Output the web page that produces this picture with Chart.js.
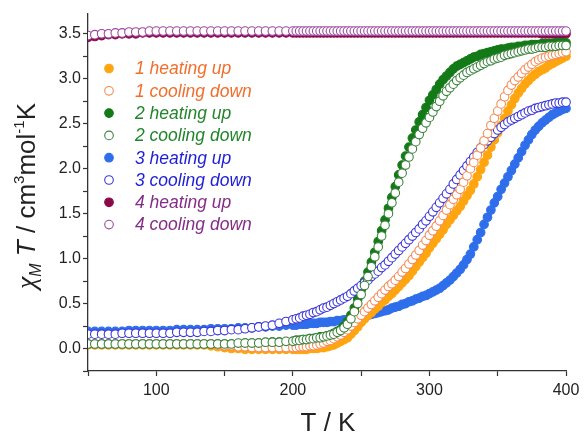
<!DOCTYPE html>
<html>
<head>
<meta charset="utf-8">
<script src="https://cdn.jsdelivr.net/npm/chart.js@4.4.1/dist/chart.umd.min.js"></script>
<style>
  html, body { margin: 0; padding: 0; background: #fff; }
  #wrap { width: 587px; height: 434px; position: relative; }
</style>
</head>
<body>
<div id="wrap"><canvas id="chiChart"></canvas></div>
<script>
// temperature grid (K)
const temps = [
  50, 55, 60, 65, 70, 75, 80, 85, 90, 95,
  100, 105, 110, 115, 120, 125, 130, 135, 140, 145,
  150, 155, 160, 165, 170, 175, 180, 185, 190, 195,
  200,
  202.5, 205, 207.5, 210, 212.5, 215, 217.5, 220, 222.5, 225,
  227.5, 230, 232.5, 235, 237.5, 240, 242.5, 245, 247.5, 250,
  252.5, 255, 257.5, 260, 262.5, 265, 267.5, 270, 272.5, 275,
  277.5, 280, 282.5, 285, 287.5, 290, 292.5, 295, 297.5, 300,
  302.5, 305, 307.5, 310, 312.5, 315, 317.5, 320, 322.5, 325,
  327.5, 330, 332.5, 335, 337.5, 340, 342.5, 345, 347.5, 350,
  352.5, 355, 357.5, 360, 362.5, 365, 367.5, 370, 372.5, 375,
  377.5, 380, 382.5, 385, 387.5, 390, 392.5, 395, 397.5, 400
];

// chi_M T values (cm3 mol-1 K)
const heat1 = [
  0.04, 0.04, 0.04, 0.04, 0.04, 0.04, 0.04, 0.04, 0.04, 0.04,
  0.04, 0.04, 0.04, 0.04, 0.04, 0.04, 0.04, 0.04, 0.03, 0.02,
  0.01, 0.00, 0.00, -0.01, -0.01, -0.01, -0.01, -0.01, -0.01, -0.01,
  -0.01,
  -0.01, -0.01, -0.01, -0.01, 0.00, 0.00, 0.00, 0.01, 0.01, 0.02,
  0.03, 0.04, 0.06, 0.08, 0.10, 0.12, 0.16, 0.20, 0.24, 0.29,
  0.33, 0.37, 0.40, 0.44, 0.47, 0.51, 0.54, 0.58, 0.61, 0.65,
  0.69, 0.73, 0.77, 0.81, 0.86, 0.91, 0.96, 1.01, 1.06, 1.12,
  1.17, 1.22, 1.27, 1.32, 1.38, 1.43, 1.48, 1.53, 1.58, 1.64,
  1.70, 1.76, 1.83, 1.91, 1.99, 2.07, 2.15, 2.24, 2.32, 2.40,
  2.48, 2.56, 2.64, 2.71, 2.78, 2.84, 2.89, 2.94, 2.98, 3.02,
  3.05, 3.08, 3.10, 3.12, 3.15, 3.17, 3.19, 3.21, 3.23, 3.25
];
const cool1 = [
  0.05, 0.05, 0.05, 0.05, 0.05, 0.05, 0.05, 0.05, 0.05, 0.05,
  0.05, 0.05, 0.05, 0.05, 0.05, 0.05, 0.05, 0.05, 0.05, 0.04,
  0.03, 0.03, 0.02, 0.02, 0.01, 0.01, 0.01, 0.01, 0.01, 0.01,
  0.01,
  0.01, 0.02, 0.02, 0.02, 0.03, 0.03, 0.04, 0.05, 0.06, 0.08,
  0.09, 0.11, 0.13, 0.15, 0.18, 0.21, 0.25, 0.29, 0.33, 0.37,
  0.41, 0.45, 0.49, 0.53, 0.57, 0.61, 0.65, 0.69, 0.72, 0.76,
  0.80, 0.85, 0.89, 0.94, 0.99, 1.04, 1.09, 1.15, 1.20, 1.26,
  1.31, 1.36, 1.42, 1.48, 1.54, 1.60, 1.66, 1.71, 1.77, 1.85,
  1.92, 2.00, 2.07, 2.15, 2.23, 2.31, 2.39, 2.48, 2.56, 2.64,
  2.72, 2.80, 2.87, 2.93, 2.98, 3.02, 3.06, 3.10, 3.13, 3.16,
  3.19, 3.21, 3.23, 3.24, 3.25, 3.26, 3.27, 3.28, 3.29, 3.30
];
const heat2 = [
  0.05, 0.05, 0.05, 0.05, 0.05, 0.05, 0.05, 0.05, 0.05, 0.05,
  0.05, 0.05, 0.05, 0.05, 0.05, 0.05, 0.05, 0.05, 0.05, 0.05,
  0.05, 0.05, 0.05, 0.06, 0.06, 0.06, 0.06, 0.07, 0.07, 0.07,
  0.08,
  0.09, 0.09, 0.10, 0.10, 0.11, 0.11, 0.12, 0.13, 0.13, 0.14,
  0.15, 0.17, 0.19, 0.21, 0.25, 0.30, 0.37, 0.45, 0.55, 0.65,
  0.75, 0.85, 0.96, 1.07, 1.19, 1.31, 1.43, 1.56, 1.68, 1.80,
  1.93, 2.04, 2.14, 2.24, 2.34, 2.43, 2.52, 2.60, 2.68, 2.76,
  2.82, 2.88, 2.94, 2.99, 3.03, 3.07, 3.11, 3.14, 3.16, 3.18,
  3.20, 3.22, 3.24, 3.25, 3.27, 3.28, 3.29, 3.30, 3.31, 3.32,
  3.33, 3.33, 3.34, 3.35, 3.35, 3.36, 3.36, 3.37, 3.37, 3.38,
  3.38, 3.38, 3.39, 3.39, 3.39, 3.39, 3.40, 3.40, 3.40, 3.40
];
const cool2 = [
  0.05, 0.05, 0.05, 0.05, 0.05, 0.05, 0.05, 0.05, 0.05, 0.05,
  0.05, 0.05, 0.05, 0.05, 0.05, 0.05, 0.05, 0.05, 0.05, 0.05,
  0.05, 0.05, 0.06, 0.06, 0.06, 0.06, 0.07, 0.07, 0.07, 0.08,
  0.08,
  0.09, 0.09, 0.10, 0.10, 0.11, 0.11, 0.12, 0.12, 0.13, 0.14,
  0.15, 0.16, 0.18, 0.20, 0.23, 0.27, 0.33, 0.41, 0.50, 0.60,
  0.70, 0.80, 0.91, 1.02, 1.13, 1.25, 1.37, 1.50, 1.62, 1.73,
  1.85, 1.95, 2.04, 2.13, 2.22, 2.30, 2.38, 2.45, 2.51, 2.57,
  2.63, 2.69, 2.75, 2.81, 2.86, 2.90, 2.94, 2.98, 3.01, 3.04,
  3.07, 3.09, 3.11, 3.13, 3.15, 3.17, 3.19, 3.20, 3.22, 3.23,
  3.24, 3.26, 3.27, 3.28, 3.29, 3.30, 3.31, 3.32, 3.33, 3.33,
  3.34, 3.35, 3.35, 3.35, 3.36, 3.36, 3.36, 3.37, 3.37, 3.37
];
const heat3 = [
  0.19, 0.19, 0.19, 0.19, 0.19, 0.19, 0.20, 0.20, 0.20, 0.20,
  0.20, 0.20, 0.20, 0.21, 0.21, 0.21, 0.21, 0.21, 0.22, 0.22,
  0.22, 0.22, 0.23, 0.23, 0.23, 0.24, 0.24, 0.25, 0.25, 0.26,
  0.26,
  0.26, 0.27, 0.27, 0.27, 0.28, 0.28, 0.28, 0.29, 0.29, 0.29,
  0.30, 0.30, 0.31, 0.31, 0.32, 0.32, 0.33, 0.34, 0.34, 0.35,
  0.36, 0.37, 0.38, 0.39, 0.40, 0.41, 0.42, 0.43, 0.45, 0.46,
  0.47, 0.49, 0.50, 0.52, 0.53, 0.55, 0.56, 0.58, 0.59, 0.61,
  0.63, 0.65, 0.67, 0.70, 0.73, 0.76, 0.80, 0.84, 0.88, 0.93,
  0.99, 1.05, 1.13, 1.21, 1.29, 1.38, 1.46, 1.54, 1.62, 1.69,
  1.77, 1.84, 1.91, 1.98, 2.05, 2.12, 2.19, 2.26, 2.32, 2.38,
  2.43, 2.47, 2.51, 2.54, 2.57, 2.60, 2.62, 2.64, 2.66, 2.67
];
const cool3 = [
  0.16, 0.16, 0.16, 0.16, 0.16, 0.17, 0.17, 0.17, 0.17, 0.17,
  0.17, 0.17, 0.17, 0.18, 0.18, 0.18, 0.18, 0.19, 0.19, 0.20,
  0.20, 0.21, 0.21, 0.22, 0.23, 0.24, 0.25, 0.26, 0.28, 0.30,
  0.32,
  0.33, 0.34, 0.36, 0.37, 0.38, 0.40, 0.41, 0.43, 0.45, 0.46,
  0.48, 0.50, 0.52, 0.54, 0.56, 0.58, 0.61, 0.64, 0.67, 0.70,
  0.73, 0.76, 0.80, 0.83, 0.86, 0.90, 0.93, 0.97, 1.01, 1.05,
  1.09, 1.13, 1.17, 1.21, 1.25, 1.29, 1.33, 1.38, 1.42, 1.47,
  1.52, 1.57, 1.62, 1.67, 1.72, 1.77, 1.83, 1.88, 1.93, 1.98,
  2.03, 2.08, 2.13, 2.18, 2.23, 2.27, 2.31, 2.35, 2.39, 2.43,
  2.46, 2.49, 2.52, 2.54, 2.56, 2.58, 2.60, 2.62, 2.64, 2.65,
  2.67, 2.68, 2.69, 2.70, 2.71, 2.72, 2.73, 2.73, 2.74, 2.74
];
const heat4 = [
  3.46, 3.47, 3.48, 3.49, 3.49, 3.50, 3.50, 3.50, 3.51, 3.51,
  3.51, 3.51, 3.51, 3.51, 3.51, 3.51, 3.51, 3.51, 3.51, 3.51,
  3.51, 3.51, 3.51, 3.51, 3.51, 3.51, 3.51, 3.51, 3.51, 3.51,
  3.51,
  3.51, 3.51, 3.51, 3.51, 3.51, 3.51, 3.51, 3.51, 3.51, 3.51,
  3.51, 3.51, 3.51, 3.51, 3.51, 3.51, 3.51, 3.51, 3.51, 3.51,
  3.51, 3.51, 3.51, 3.51, 3.51, 3.51, 3.51, 3.51, 3.51, 3.51,
  3.51, 3.51, 3.51, 3.51, 3.51, 3.51, 3.51, 3.51, 3.51, 3.51,
  3.51, 3.51, 3.51, 3.51, 3.51, 3.51, 3.51, 3.51, 3.51, 3.51,
  3.51, 3.51, 3.51, 3.51, 3.51, 3.51, 3.51, 3.51, 3.51, 3.51,
  3.51, 3.51, 3.51, 3.51, 3.51, 3.51, 3.51, 3.51, 3.51, 3.51,
  3.51, 3.51, 3.50, 3.50, 3.50, 3.50, 3.50, 3.50, 3.50, 3.50
];
const cool4 = [
  3.48, 3.49, 3.50, 3.50, 3.51, 3.51, 3.52, 3.52, 3.52, 3.53,
  3.53, 3.53, 3.53, 3.53, 3.53, 3.53, 3.53, 3.53, 3.53, 3.53,
  3.53, 3.53, 3.53, 3.53, 3.53, 3.53, 3.53, 3.53, 3.53, 3.53,
  3.53,
  3.53, 3.53, 3.53, 3.53, 3.53, 3.53, 3.53, 3.53, 3.53, 3.53,
  3.53, 3.53, 3.53, 3.53, 3.53, 3.53, 3.53, 3.53, 3.53, 3.53,
  3.53, 3.53, 3.53, 3.53, 3.53, 3.53, 3.53, 3.53, 3.53, 3.53,
  3.53, 3.53, 3.53, 3.53, 3.53, 3.53, 3.53, 3.53, 3.53, 3.53,
  3.53, 3.53, 3.53, 3.53, 3.53, 3.53, 3.53, 3.53, 3.53, 3.53,
  3.53, 3.53, 3.53, 3.53, 3.53, 3.53, 3.53, 3.53, 3.53, 3.53,
  3.53, 3.53, 3.53, 3.53, 3.53, 3.53, 3.53, 3.53, 3.53, 3.53,
  3.53, 3.53, 3.53, 3.53, 3.53, 3.53, 3.53, 3.53, 3.53, 3.53
];

const seriesLabels = [
  '1 heating up', '1 cooling down',
  '2 heating up', '2 cooling down',
  '3 heating up', '3 cooling down',
  '4 heating up', '4 cooling down'
];
const seriesValues = [heat1, cool1, heat2, cool2, heat3, cool3, heat4, cool4];
const markerColors = ['#FFA50F', '#F58A55', '#137A17', '#3B823B', '#2F6EEB', '#3A35DA', '#8A0A48', '#9C47A0'];
const textColors = ['#F26E2C', '#F26E2C', '#22852B', '#22852B', '#1E1ED8', '#1E1ED8', '#862C88', '#862C88'];
const filled = [true, false, true, false, true, false, true, false];
// draw order: lower value ends up on top
const drawOrder = [5, 1, 4, 0, 6, 2, 7, 3];

const FONT = "'Liberation Sans', Arial, sans-serif";

function toPoints(ys) {
  return temps.map((t, i) => ({ x: t, y: ys[i] }));
}

const datasets = seriesValues.map((ys, i) => ({
  label: seriesLabels[i],
  data: toPoints(ys),
  showLine: false,
  pointStyle: 'circle',
  pointRadius: 4.3,
  pointHoverRadius: 4.3,
  pointBorderWidth: 1.1,
  pointBackgroundColor: filled[i] ? markerColors[i] : '#ffffff',
  pointBorderColor: markerColors[i],
  order: drawOrder[i],
  clip: { left: 0, top: false, right: 7, bottom: false }
}));

// axis titles + legend drawn by hand (mixed italic / sub / superscript text)
const labelsPlugin = {
  id: 'labelsPlugin',
  afterDraw(chart) {
    const ctx = chart.ctx;
    ctx.save();

    // x title
    ctx.fillStyle = '#222';
    ctx.font = '26px ' + FONT;
    ctx.textAlign = 'center';
    ctx.textBaseline = 'alphabetic';
    ctx.fillText('T / K', 328, 431);

    // y title, rotated
    const parts = [
      { t: '\u03C7', f: "italic 28px 'Liberation Serif', serif", dy: 0 },
      { t: 'M', f: 'italic 16px ' + FONT, dy: 6 },
      { t: ' T', f: 'italic 26px ' + FONT, dy: 0 },
      { t: ' / cm', f: '26px ' + FONT, dy: 0 },
      { t: '3', f: '15px ' + FONT, dy: -11 },
      { t: 'mol', f: '26px ' + FONT, dy: 0 },
      { t: '-1', f: '15px ' + FONT, dy: -11 },
      { t: 'K', f: '26px ' + FONT, dy: 0 }
    ];
    let total = 0;
    parts.forEach(p => { ctx.font = p.f; p.w = ctx.measureText(p.t).width; total += p.w; });
    ctx.translate(35, 196);
    ctx.rotate(-Math.PI / 2);
    ctx.textAlign = 'left';
    let px = -total / 2;
    parts.forEach(p => {
      ctx.font = p.f;
      ctx.fillText(p.t, px, p.dy);
      px += p.w;
    });
    ctx.setTransform(1, 0, 0, 1, 0, 0);
    ctx.restore();

    // legend
    ctx.save();
    ctx.font = 'italic 17.5px ' + FONT;
    ctx.textBaseline = 'middle';
    ctx.textAlign = 'left';
    for (let i = 0; i < seriesLabels.length; i++) {
      const cy = 68.5 + i * 22.3;
      ctx.beginPath();
      ctx.arc(109, cy, 4.3, 0, Math.PI * 2);
      ctx.fillStyle = filled[i] ? markerColors[i] : '#ffffff';
      ctx.fill();
      ctx.lineWidth = 1.1;
      ctx.strokeStyle = markerColors[i];
      ctx.stroke();
      ctx.fillStyle = textColors[i];
      ctx.fillText(seriesLabels[i], 135, cy + 1);
    }
    ctx.restore();
  }
};

const ctx = document.getElementById('chiChart').getContext('2d');

new Chart(ctx, {
  type: 'scatter',
  data: { datasets: datasets },
  options: {
    responsive: true,
    maintainAspectRatio: false,
    animation: false,
    events: [],
    layout: { padding: { top: 14, right: 21, left: 0, bottom: 0 } },
    plugins: {
      legend: { display: false },
      tooltip: { enabled: false }
    },
    scales: {
      x: {
        type: 'linear',
        min: 50,
        max: 400,
        afterFit: function(scale) { scale.height = 63; },
        ticks: {
          stepSize: 50,
          autoSkip: false,
          maxRotation: 0,
          includeBounds: false,
          padding: 5,
          color: '#222',
          font: { family: FONT, size: 16 },
          callback: function(v) { return v % 100 === 0 ? String(v) : ''; }
        },
        grid: {
          drawOnChartArea: false,
          drawTicks: true,
          tickLength: 5,
          tickColor: '#333',
          tickWidth: 1.2
        },
        border: { display: true, color: '#333', width: 1.3 }
      },
      y: {
        type: 'linear',
        min: -0.25,
        max: 3.72,
        afterFit: function(scale) { scale.width = 88; },
        ticks: {
          stepSize: 0.25,
          autoSkip: false,
          includeBounds: false,
          padding: 2,
          color: '#222',
          font: { family: FONT, size: 16 },
          callback: function(v) {
            const r = Math.round(v * 2);
            return Math.abs(v * 2 - r) < 1e-6 ? (r / 2).toFixed(1) : '';
          }
        },
        grid: {
          drawOnChartArea: false,
          drawTicks: true,
          tickLength: 5,
          tickColor: '#333',
          tickWidth: 1.2
        },
        border: { display: true, color: '#333', width: 1.3 }
      }
    }
  },
  plugins: [labelsPlugin]
});
</script>
</body>
</html>
